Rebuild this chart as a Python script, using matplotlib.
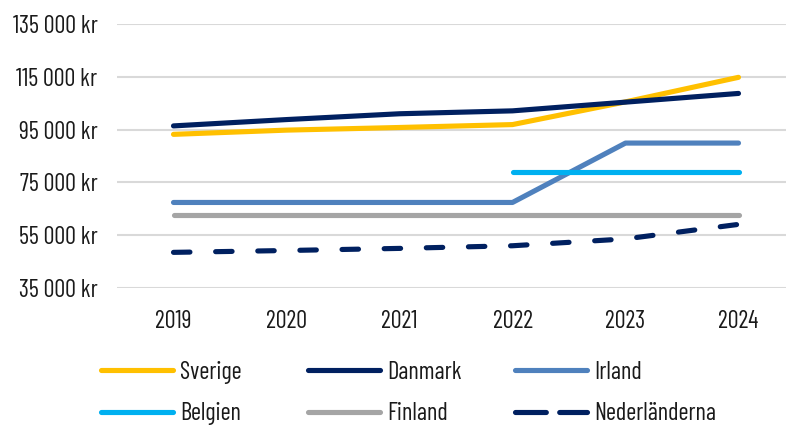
import matplotlib
matplotlib.use("Agg")
import matplotlib.pyplot as plt
from matplotlib.lines import Line2D

years = ["2019", "2020", "2021", "2022", "2023", "2024"]

sverige = [93200, 94800, 95800, 96900, 105500, 114800]
danmark = [96400, 98800, 101000, 102100, 105400, 108700]
irland = [67400, 67400, 67400, 67400, 89900, 89900]
belgien = [None, None, None, 78900, 78900, 78900]
finland = [62600, 62600, 62600, 62600, 62600, 62600]
nederlanderna = [48500, 49200, 50000, 51000, 53600, 59100]

y_ticks = [35000, 55000, 75000, 95000, 115000, 135000]

plt.rcParams["font.family"] = ["Barlow Condensed", "DejaVu Sans"]
FS = 17.5
TXT = "#1a1a1a"


def kr(v):
    return "{:,} kr".format(v).replace(",", " ")


fig = plt.figure(figsize=(7.86, 4.25), dpi=100)
ax = fig.add_axes([117 / 786, 137 / 425, 678 / 786, 264 / 425])

series = [
    ("Sverige", sverige, "#FFC000"),
    ("Danmark", danmark, "#002060"),
    ("Irland", irland, "#4F81BD"),
    ("Belgien", belgien, "#00B0F0"),
    ("Finland", finland, "#A5A5A5"),
    ("Nederländerna", nederlanderna, "#002060"),
]

x = list(range(len(years)))
handles = []
for name, vals, color in series:
    xs = [i for i, v in zip(x, vals) if v is not None]
    ys = [v for v in vals if v is not None]
    line, = ax.plot(xs, ys, color=color, lw=3.7, solid_capstyle="round",
                    solid_joinstyle="round", dash_capstyle="round",
                    label=name, zorder=3)
    if name == "Nederländerna":
        line.set_dashes([3.2, 5.0])
    handles.append(line)

ax.set_xlim(-0.5, 5.5)
ax.set_ylim(35000, 135000)
ax.set_yticks(y_ticks)
ax.set_yticklabels([kr(v) for v in y_ticks])
ax.set_xticks(x)
ax.set_xticklabels(years)
ax.tick_params(axis="both", length=0, labelsize=FS, colors=TXT)
ax.tick_params(axis="y", pad=14)
ax.tick_params(axis="x", pad=16)
ax.grid(axis="y", color="#D9D9D9", lw=1.5, zorder=0)
for s in ax.spines.values():
    s.set_visible(False)

# legend laid out as three columns of two rows
col_x = [101 / 786, 308 / 786, 515 / 786]
for i, cx in enumerate(col_x):
    pair = [handles[i], handles[i + 3]]
    hs = []
    for h in pair:
        hl = Line2D([], [], color=h.get_color(), lw=3.7, solid_capstyle="round",
                    dash_capstyle="round")
        if h.get_label() == "Nederländerna":
            hl.set_dashes([6.0, 2.6])
        hs.append(hl)
    leg = fig.legend(hs, [h.get_label() for h in pair], loc="upper left",
                     bbox_to_anchor=(cx, 1 - 361 / 425), frameon=False,
                     fontsize=FS, handlelength=2.95, handletextpad=0.3,
                     labelspacing=0.75, borderaxespad=0, borderpad=0)
    for t in leg.get_texts():
        t.set_color(TXT)

fig.savefig("out.png", dpi=100)
